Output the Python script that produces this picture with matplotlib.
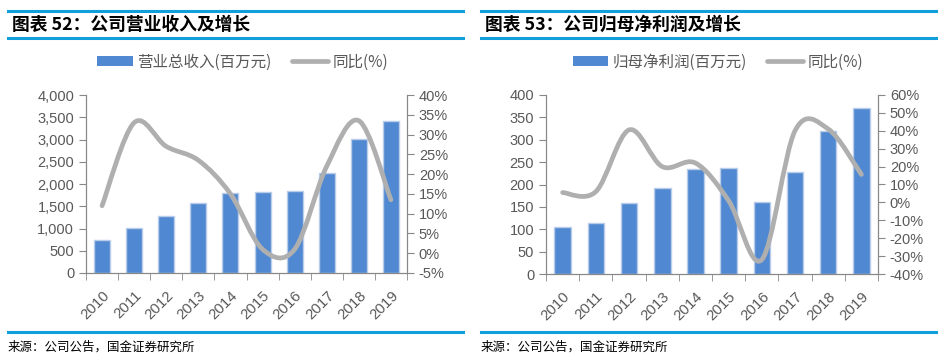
import numpy as np
import matplotlib
matplotlib.use('Agg')
import matplotlib.pyplot as plt
from matplotlib.path import Path
from matplotlib.patches import PathPatch, Patch
from matplotlib.lines import Line2D
from matplotlib.ticker import FuncFormatter, MultipleLocator, FixedLocator

plt.rcParams['font.family'] = ['Noto Sans CJK SC', 'DejaVu Sans']

years = ['2010', '2011', '2012', '2013', '2014', '2015', '2016', '2017', '2018', '2019']
revenue = [750, 1006, 1276, 1568, 1801, 1816, 1839, 2244, 3002, 3415]
revenue_yoy = [12, 33, 27, 23.5, 15, 1, 1, 22, 33.5, 13.5]
profit = [106, 113, 159, 192, 234, 237, 162, 227, 320, 370]
profit_yoy = [5.5, 6, 40.5, 20, 22, 1, -32, 40, 41, 15.6]

BAR = '#5089D2'
BAR_EDGE = '#B9CDEB'
GREY = '#AFAFAF'
BLUE = '#119FDB'
TXT = '#595959'
AX = '#888888'
NUM = ['Liberation Sans', 'Noto Sans CJK SC']


def smooth_path(x, y):
    # excel-like smoothed line: catmull-rom as cubic bezier
    n = len(x)
    verts = [(x[0], y[0])]
    codes = [Path.MOVETO]
    for i in range(n - 1):
        a = max(i - 1, 0)
        b = min(i + 2, n - 1)
        c1 = (x[i] + (x[i + 1] - x[a]) / 6, y[i] + (y[i + 1] - y[a]) / 6)
        c2 = (x[i + 1] - (x[b] - x[i]) / 6, y[i + 1] - (y[b] - y[i]) / 6)
        verts += [c1, c2, (x[i + 1], y[i + 1])]
        codes += [Path.CURVE4] * 3
    return Path(verts, codes)


def panel(fig, rect, vals, yoy, ymax, ystep, rlim, rstep, title, label, leg_x, x0, x1):
    ax = fig.add_axes(rect)
    x = np.arange(len(years))
    ax.bar(x, vals, width=0.5, color=BAR, edgecolor=BAR_EDGE, linewidth=1, zorder=2)
    ax.set_xlim(-0.5, len(years) - 0.5)
    ax.set_ylim(0, ymax)
    ax.yaxis.set_major_locator(MultipleLocator(ystep))
    ax.yaxis.set_major_formatter(FuncFormatter(lambda v, p: f'{v:,.0f}'))
    ax.set_xticks(x)
    ax.set_xticklabels(years, rotation=45, ha='right', rotation_mode='anchor')
    ax.xaxis.set_minor_locator(FixedLocator(np.arange(-0.5, len(years), 1)))
    ax.tick_params(axis='x', which='major', length=0, pad=11)
    ax.tick_params(axis='x', which='minor', length=5, color=AX, direction='out')
    ax.tick_params(axis='y', length=5, color=AX, labelcolor=TXT, labelsize=10.5)
    ax.tick_params(axis='x', labelcolor=TXT, labelsize=10.8)
    for lb in ax.get_xticklabels() + ax.get_yticklabels():
        lb.set_family(NUM)
    ax.spines['top'].set_visible(False)
    for s in ['left', 'right', 'bottom']:
        ax.spines[s].set_color(AX)

    ax2 = ax.twinx()
    ax2.set_ylim(*rlim)
    ax2.yaxis.set_major_locator(MultipleLocator(rstep))
    ax2.yaxis.set_major_formatter(FuncFormatter(lambda v, p: f'{v:.0f}%'))
    ax2.tick_params(axis='y', length=5, color=AX, labelcolor=TXT, labelsize=10.5)
    for lb in ax2.get_yticklabels():
        lb.set_family(NUM)
    ax2.spines['top'].set_visible(False)
    for s in ['left', 'right', 'bottom']:
        ax2.spines[s].set_color(AX)
    ax2.add_patch(PathPatch(smooth_path(x, yoy), facecolor='none', edgecolor=GREY,
                            linewidth=3.4, capstyle='round', zorder=3))

    handles = [Patch(facecolor=BAR, edgecolor='none'),
               Line2D([], [], color=GREY, linewidth=3.4, solid_capstyle='round')]
    fig.legend(handles, [label, '同比(%)'], loc='center', bbox_to_anchor=(leg_x, 0.829),
               ncol=2, frameon=False, fontsize=11.2, handlelength=2.3, handleheight=0.55,
               columnspacing=1.3, handletextpad=0.3, labelcolor=TXT)

    # header and footer rules
    for yy in [1 - 11 / 363, 1 - 38 / 363]:
        fig.add_artist(Line2D([x0, x1], [yy, yy], color=BLUE, linewidth=2.2,
                              transform=fig.transFigure))
    fig.add_artist(Line2D([x0, x1], [1 - 332 / 363] * 2, color=BLUE, linewidth=2.2,
                          transform=fig.transFigure))
    fig.text(x0 + 4 / 948, 1 - 25 / 363, title, fontsize=12.8, fontweight='bold',
             va='center', ha='left', color='black')
    fig.text(x0, 1 - 347 / 363, '来源：公司公告，国金证券研究所', fontsize=9,
             va='center', ha='left', color='black')


fig = plt.figure(figsize=(9.48, 3.63), dpi=100)
panel(fig, [86 / 948, 1 - 273 / 363, 321 / 948, 178 / 363], revenue, revenue_yoy,
      4000, 500, (-5, 40), 5, '图表 52：公司营业收入及增长', '营业总收入(百万元)',
      0.2558, 8 / 948, 463 / 948)
panel(fig, [546 / 948, 1 - 274 / 363, 332 / 948, 179 / 363], profit, profit_yoy,
      400, 50, (-40, 60), 10, '图表 53：公司归母净利润及增长', '归母净利润(百万元)',
      0.7574, 481 / 948, 936 / 948)

fig.savefig('out.png', dpi=100)
